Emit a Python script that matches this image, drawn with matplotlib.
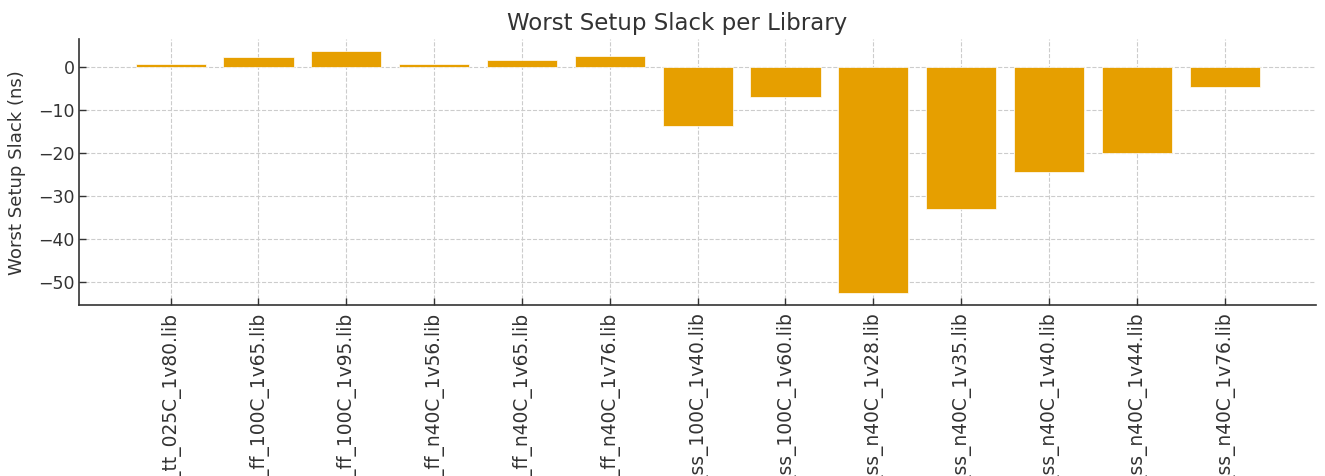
import matplotlib
matplotlib.use("Agg")
import matplotlib.pyplot as plt

libraries = [
    "sky130_fd_sc_hd__tt_025C_1v80.lib",
    "sky130_fd_sc_hd__ff_100C_1v65.lib",
    "sky130_fd_sc_hd__ff_100C_1v95.lib",
    "sky130_fd_sc_hd__ff_n40C_1v56.lib",
    "sky130_fd_sc_hd__ff_n40C_1v65.lib",
    "sky130_fd_sc_hd__ff_n40C_1v76.lib",
    "sky130_fd_sc_hd__ss_100C_1v40.lib",
    "sky130_fd_sc_hd__ss_100C_1v60.lib",
    "sky130_fd_sc_hd__ss_n40C_1v28.lib",
    "sky130_fd_sc_hd__ss_n40C_1v35.lib",
    "sky130_fd_sc_hd__ss_n40C_1v40.lib",
    "sky130_fd_sc_hd__ss_n40C_1v44.lib",
    "sky130_fd_sc_hd__ss_n40C_1v76.lib",
]
worst_setup_slack = [0.84, 2.33, 3.73, 0.77, 1.7, 2.63,
                     -13.7, -6.85, -52.6, -33.0, -24.5, -19.9, -4.6]

TXT = "#333333"
fig = plt.figure(figsize=(13.25, 4.76), dpi=100)
ax = fig.add_axes([79.3 / 1325, 1 - 305 / 476, (1316 - 79.3) / 1325, (305 - 39.3) / 476])

x = list(range(len(libraries)))
ax.bar(x, worst_setup_slack, width=0.8, color="#E69F00", edgecolor="white",
       linewidth=0.5, zorder=2)
ax.set_xticks(x)
ax.set_xticklabels(libraries, rotation=90, color=TXT)
ax.set_yticks([0, -10, -20, -30, -40, -50])
ax.tick_params(axis="both", direction="in", length=5, width=1, colors=TXT,
               labelcolor=TXT)
ax.tick_params(axis="y", labelsize=12.5)
ax.tick_params(axis="x", labelsize=13.4, pad=4.7)
ax.grid(True, linestyle="--", color="#cccccc", linewidth=0.8, zorder=0)
ax.set_axisbelow(True)
for s in ["top", "right"]:
    ax.spines[s].set_visible(False)
for s in ["left", "bottom"]:
    ax.spines[s].set_color(TXT)
    ax.spines[s].set_linewidth(1.2)

ax.set_ylabel("Worst Setup Slack (ns)", fontsize=13.1, color=TXT)
ax.yaxis.set_label_coords(-0.043, 0.5)
ax.set_title("Worst Setup Slack per Library", fontsize=16.5, color=TXT, x=0.483, pad=6.5)

fig.savefig("out.png", dpi=100)
